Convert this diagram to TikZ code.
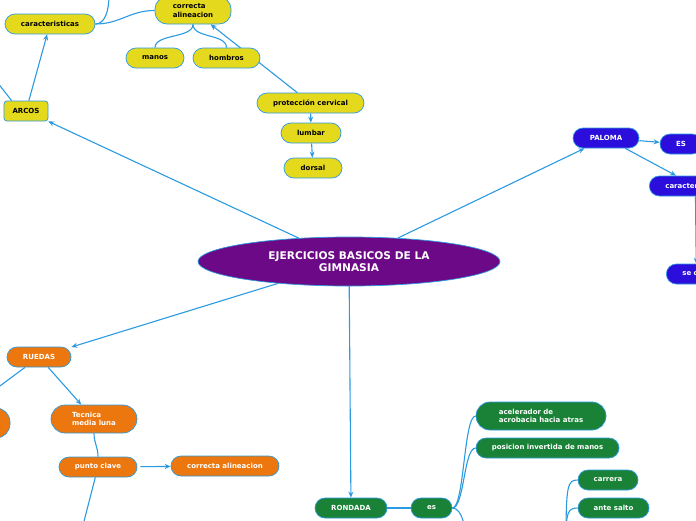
\documentclass[tikz,border=0pt]{standalone}
\usepackage{fontspec}
\newfontfamily\mapfont{DejaVu Sans}
\usetikzlibrary{arrows.meta,shapes.geometric,backgrounds}
\definecolor{lnk}{RGB}{43,154,224}
\definecolor{cyel}{RGB}{229,217,30}
\definecolor{cpur}{RGB}{108,9,134}
\definecolor{cblu}{RGB}{43,14,219}
\definecolor{cora}{RGB}{236,119,14}
\definecolor{cgrn}{RGB}{26,130,54}

\begin{document}
\begin{tikzpicture}[x=1pt,y=1pt,>={Stealth[length=6pt,width=5pt]},font=\mapfont\bfseries\fontsize{7}{8.5}\selectfont,nd/.style={draw=lnk,line width=0.7pt,rounded corners=10pt,minimum height=20pt,inner sep=1pt,align=left,text=white},ylw/.style={nd,fill=cyel,text=black},blu/.style={nd,fill=cblu},org/.style={nd,fill=cora},grn/.style={nd,fill=cgrn},lk/.style={draw=lnk,line width=1.1pt}]
\useasboundingbox (0,0) rectangle (696,-520);
\clip (0,0) rectangle (696,-520);
% centre
\node[nd,ellipse,fill=cpur,minimum width=302pt,minimum height=49pt,align=center,font=\mapfont\bfseries\fontsize{10.6}{12}\selectfont] (ej) at (349,-261.5) {EJERCICIOS BASICOS DE LA\\GIMNASIA};
% arcos
\node[ylw,rounded corners=3pt,minimum width=44pt] (ar) at (26,-111) {ARCOS};
\node[ylw,minimum width=90pt] (ca) at (50,-24) {caracteristicas};
\node[ylw,minimum width=76pt,minimum height=27pt,rounded corners=12pt] (co) at (193,-10.5) {correcta\\alineacion};
\node[ylw,minimum width=58pt] (ma) at (155,-58) {manos};
\node[ylw,minimum width=67pt] (ho) at (226.5,-58) {hombros};
\node[ylw,minimum width=107pt] (pc) at (310.5,-103) {protección cervical};
\node[ylw,minimum width=60pt] (lu) at (311,-133) {lumbar};
\node[ylw,minimum width=58pt] (do) at (313,-168) {dorsal};
% paloma
\node[blu,minimum width=66pt] (pa) at (606,-138) {PALOMA};
\node[blu,minimum width=42pt] (es1) at (681,-144) {ES};
\node[blu,anchor=west,text width=60pt,inner xsep=16pt] (cr) at (649,-186) {caracter};
\node[blu,anchor=west,text width=28pt,inner xsep=16pt] (sc) at (666,-274) {se c};
% ruedas
\node[org,minimum width=64pt] (ru) at (39,-357) {RUEDAS};
\node[org,minimum width=120pt,minimum height=30pt,rounded corners=14pt] (lf) at (-50,-423) {};
\node[org,minimum width=86pt,minimum height=28pt,rounded corners=14pt] (te) at (94,-419) {Tecnica\\media luna};
\node[org,minimum width=78pt] (pu) at (98,-467) {punto clave};
\node[org,minimum width=108pt] (cl) at (225,-466) {correcta alineacion};
% rondada
\node[grn,minimum width=72pt] (rd) at (351,-508) {RONDADA};
\node[grn,minimum width=41pt] (es) at (431.5,-508) {es};
\node[grn,minimum width=130pt,minimum height=28pt,rounded corners=14pt] (ac) at (541,-416) {acelerador de\\acrobacia hacia atras};
\node[grn,minimum width=143pt] (pi) at (547.5,-448) {posicion invertida de manos};
\node[grn,minimum width=60pt] (cv) at (608,-480) {carrera};
\node[grn,minimum width=71pt] (as) at (613.5,-508) {ante salto};
\coordinate (caU) at (109,5);
\coordinate (arU) at (-10,-73);
\coordinate (puD) at (74,-560);
\coordinate (esD) at (466,-540);
\coordinate (pD) at (566,-540);
\begin{pgfonlayer}{background}
\begin{scope}
\clip (0,0) rectangle (696,-520);
\draw[lk,->] (ej)--(ar);
\draw[lk,->] (ar)--(ca);
\draw[lk] ([xshift=8pt]ar.north west)--(arU);
\draw[lk] (ca.east) .. controls +(10,0) and +(0,-15) .. (caU);
\draw[lk] (ca.east) .. controls +(25,0) and +(-25,0) .. (co.west);
\draw[lk] (co.south) .. controls +(0,-14) and +(0,14) .. (ma.north);
\draw[lk] (co.south) .. controls +(0,-14) and +(0,14) .. (ho.north);
\draw[lk,->] (pc)--(co);
\draw[lk,->] (pc)--(lu);
\draw[lk,->] (lu)--(do);
\draw[lk,->] (ej)--(pa);
\draw[lk,->] (pa)--(es1);
\draw[lk,->] (pa)--(cr);
\draw[lk,->] (cr)--(sc);
\draw[lk,->] (ej)--(ru);
\draw[lk] (ru)--(lf);
\draw[lk,->] (ru)--(te);
\draw[lk] (te.south) .. controls +(0,-10) and +(0,10) .. (pu.north);
\draw[lk,->,shorten <=3pt] (pu)--(cl);
\draw[lk] (pu)--(puD);
\draw[lk,->] (ej)--(rd);
\draw[lk] (rd)--(es);
\draw[lk] (es.east) .. controls +(12,0) and +(-12,0) .. (ac.west);
\draw[lk] (es.east) .. controls +(12,0) and +(-12,0) .. (pi.west);
\draw[lk] (es.east) .. controls +(10,0) and +(0,10) .. (esD);
\draw[lk] (pD) .. controls +(0,55) and +(-10,0) .. (cv.west);
\draw[lk] (pD) .. controls +(0,27) and +(-10,0) .. (as.west);
\end{scope}
\end{pgfonlayer}
\end{tikzpicture}
\end{document}
